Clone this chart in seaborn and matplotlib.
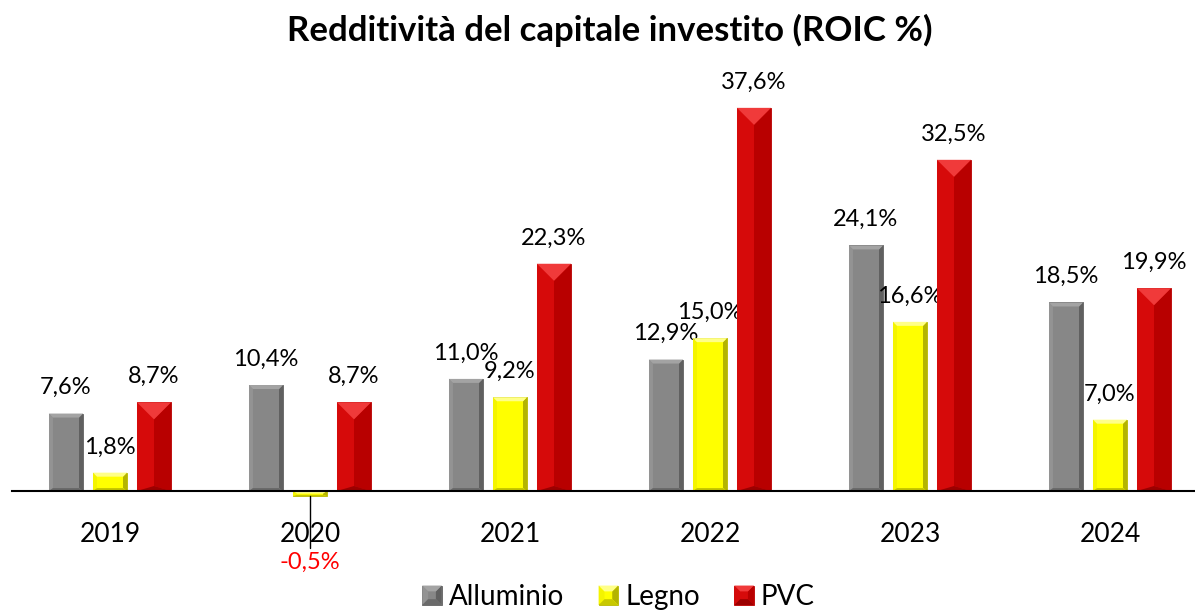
import matplotlib.pyplot as plt
from matplotlib.patches import Polygon, Rectangle
from matplotlib.legend_handler import HandlerBase
import pandas as pd
import seaborn as sns


anni = ['2019', '2020', '2021', '2022', '2023', '2024']
materiali = ['Alluminio', 'Legno', 'PVC']
alluminio = [7.6, 10.4, 11.0, 12.9, 24.1, 18.5]
legno = [1.8, -0.5, 9.2, 15.0, 16.6, 7.0]
pvc = [8.7, 8.7, 22.3, 37.6, 32.5, 19.9]

titolo = 'Redditività del capitale investito (ROIC %)'

colori = {'Alluminio': '#878787', 'Legno': '#ffff00', 'PVC': '#d60a0a'}
# sfaccettature del bevel: alto, sinistra, destra, basso
facce = {
    'Alluminio': ('#a3a3a3', '#939393', '#606060', '#6a6a6a'),
    'Legno': ('#ffff88', '#f4f400', '#b4b400', '#c8c800'),
    'PVC': ('#f03a3a', '#d60a0a', '#b80000', '#9c0000'),
}
# dimensione del bevel in pixel: alto, lati, basso (None = metà larghezza)
bevel_px = {
    'Alluminio': (4, 4, 3),
    'Legno': (4, 4, 3),
    'PVC': (17, None, 5),
}

df = pd.DataFrame({
    'anno': anni * 3,
    'materiale': [m for m in materiali for _ in anni],
    'roic': alluminio + legno + pvc,
})

sns.set_style('white')
plt.rcParams['font.family'] = ['Lato', 'DejaVu Sans']
plt.rcParams['text.color'] = 'black'
plt.rcParams['xtick.color'] = 'black'
plt.rcParams['xtick.labelcolor'] = 'black'

W, H = 1195, 611
fig = plt.figure(figsize=(W / 100, H / 100), dpi=100)
# assi in pixel: sinistra 12, destra 1195, alto 60, basso 560
ax = fig.add_axes([12 / W, (H - 560) / H, (1195 - 12) / W, 500 / H])

sns.barplot(data=df, x='anno', y='roic', hue='materiale', hue_order=materiali,
            palette=colori, width=0.66, gap=0.227, legend=False,
            saturation=1, ax=ax)

px_per_unit = 10.19
ax.set_ylim(-69 / px_per_unit, 431 / px_per_unit)
ax.set_xlim(-0.49, 5.425)
dx_px = (5.425 + 0.49) / 1183
dy_px = 1 / px_per_unit


def bevel(ax, x0, x1, y0, y1, cols, sizes):
    yb, yt = min(y0, y1), max(y0, y1)
    w_px = (x1 - x0) / dx_px
    h_px = (yt - yb) / dy_px
    bt, bs, bb = sizes
    if bs is None:
        bs = w_px / 2
    bt = min(bt, h_px / 2)
    bb = min(bb, h_px / 4)
    bx = bs * dx_px
    byt, byb = bt * dy_px, bb * dy_px
    bl, br, tr, tl = (x0, yb), (x1, yb), (x1, yt), (x0, yt)
    ibl, ibr = (x0 + bx, yb + byb), (x1 - bx, yb + byb)
    itr, itl = (x1 - bx, yt - byt), (x0 + bx, yt - byt)
    top, left, right, bottom = cols
    for pts, c in [([bl, tl, itl, ibl], left), ([br, tr, itr, ibr], right),
                   ([tl, tr, itr, itl], top), ([bl, br, ibr, ibl], bottom)]:
        ax.add_patch(Polygon(pts, closed=True, facecolor=c, edgecolor='none',
                             zorder=3))


for mat, cont in zip(materiali, ax.containers):
    for bar in cont:
        x0 = bar.get_x()
        x1 = x0 + bar.get_width()
        y0 = bar.get_y()
        y1 = y0 + bar.get_height()
        bar.set_edgecolor(facce[mat][2])
        bar.set_linewidth(0.6)
        bevel(ax, x0, x1, y0, y1, facce[mat], bevel_px[mat])
        val = bar.get_height()
        xc = (x0 + x1) / 2
        testo = f'{val:.1f}%'.replace('.', ',')
        if val >= 0:
            ax.annotate(testo, (xc, y1), xytext=(0, 11), textcoords='offset points',
                        ha='center', va='bottom', fontsize=17, color='black')
        else:
            ax.plot([xc, xc], [y1, -5.6], color='black', lw=1, zorder=4)
            ax.text(xc, -7.0, testo, ha='center', va='center', fontsize=17,
                    color='#ff0000')

sns.despine(ax=ax, left=True)
ax.spines['bottom'].set_position(('data', 0))
ax.spines['bottom'].set_linewidth(1.5)
ax.spines['bottom'].set_color('black')
ax.spines['bottom'].set_zorder(5)
ax.set_yticks([])
ax.tick_params(axis='x', length=0, pad=22, labelsize=19, labelcolor='black')
ax.set_xlabel('')
ax.set_ylabel('')

fig.text(0.51, 1 - 30 / H, titolo, ha='center', va='center',
         fontsize=25, fontweight='bold', color='black')


class HandlerBevel(HandlerBase):
    def create_artists(self, legend, orig_handle, xdescent, ydescent,
                       width, height, fontsize, trans):
        cols = orig_handle.cols
        s = height * 1.0
        x0 = xdescent + width - s
        y0 = -ydescent
        b = s * 0.3
        o = [(x0, y0), (x0 + s, y0), (x0 + s, y0 + s), (x0, y0 + s)]
        i = [(x0 + b, y0 + b), (x0 + s - b, y0 + b),
             (x0 + s - b, y0 + s - b), (x0 + b, y0 + s - b)]
        arts = [Rectangle((x0, y0), s, s, facecolor=orig_handle.base,
                          edgecolor=cols[2], lw=0.6, transform=trans)]
        for pts, c in [([o[0], o[3], i[3], i[0]], cols[1]),
                       ([o[1], o[2], i[2], i[1]], cols[2]),
                       ([o[3], o[2], i[2], i[3]], cols[0]),
                       ([o[0], o[1], i[1], i[0]], cols[3])]:
            arts.append(Polygon(pts, closed=True, facecolor=c, edgecolor='none',
                                transform=trans))
        return arts


handles = []
for mat in materiali:
    h = Rectangle((0, 0), 1, 1)
    h.cols = facce[mat]
    h.base = colori[mat]
    handles.append(h)

leg = fig.legend(handles, materiali, loc='center', bbox_to_anchor=(0.517, 14 / H),
                 ncol=3, frameon=False, fontsize=20,
                 handler_map={Rectangle: HandlerBevel()},
                 handlelength=0.75, handletextpad=0.25, columnspacing=1.2,
                 borderpad=0, labelcolor='black')

fig.savefig('out.png', dpi=100)
